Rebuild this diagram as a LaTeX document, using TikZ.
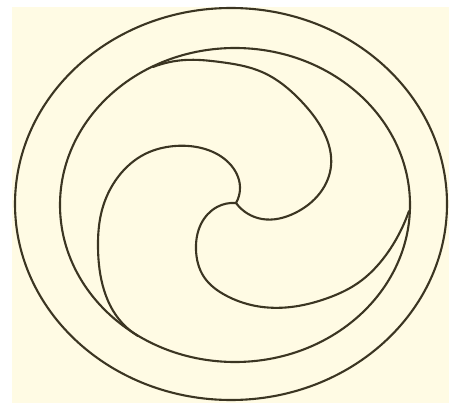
\documentclass[tikz,border=0pt]{standalone}
\usetikzlibrary{hobby}
\begin{document}
\begin{tikzpicture}[x=1pt,y=-1pt,
  ln/.style={draw=lineclr,line width=2.1pt,line join=round,line cap=round},
  sm/.style={ln,use Hobby shortcut}]
\definecolor{lineclr}{HTML}{3B3522}
\definecolor{bgclr}{HTML}{FFFBE4}
\fill[white] (0,0) rectangle (449,403);
\fill[bgclr] (12,7) rectangle (449,403);
\useasboundingbox (0,0) rectangle (449,403);
% outer and inner rings
\draw[ln] (231,204) ellipse [x radius=216, y radius=196];
\draw[ln] (235,205) ellipse [x radius=175, y radius=157];
\coordinate (J) at (236,203);
% upper lobe
\draw[sm] (153,67) .. (185,60) .. (220,62) .. (262,72) .. (302,102) .. (326,137) .. (331,166) .. (320,193) .. (295,213) .. (262,219) .. (J);
% small lobe and left comma inner edge
\draw[sm] (J) .. (240,187) .. (229,163) .. (205,149) .. (175,146) .. (145,154) .. (118,177) .. (102,210) .. (98,248) .. (104,290) .. (118,318) .. (138,336);
% right comma
\draw[sm] (J) .. (217,207) .. (201,224) .. (196,250) .. (204,277) .. (225,295) .. (256,306) .. (291,307) .. (325,299) .. (358,283) .. (386,255) .. (402,228) .. (409,211);
\end{tikzpicture}
\end{document}
